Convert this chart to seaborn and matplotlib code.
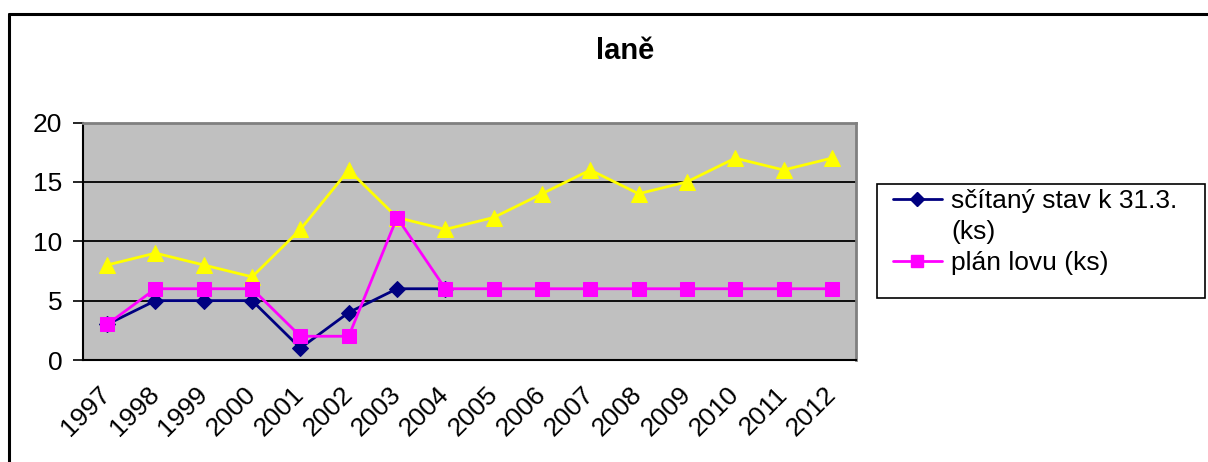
import numpy as np
import pandas as pd
import matplotlib
matplotlib.use("Agg")
import matplotlib.pyplot as plt
import seaborn as sns
from matplotlib.lines import Line2D
from matplotlib.patches import Rectangle

years = ["1997", "1998", "1999", "2000", "2001", "2002", "2003", "2004",
         "2005", "2006", "2007", "2008", "2009", "2010", "2011", "2012"]
stav = [3, 5, 5, 5, 1, 4, 6, 6, np.nan, np.nan, np.nan, np.nan, np.nan, np.nan, np.nan, np.nan]
plan = [3, 6, 6, 6, 2, 2, 12, 6, 6, 6, 6, 6, 6, 6, 6, 6]
treti = [8, 9, 8, 7, 11, 16, 12, 11, 12, 14, 16, 14, 15, 17, 16, 17]
labels = ["sčítaný stav k 31.3.\n(ks)", "plán lovu (ks)"]
title = "laně"

sns.set_style("white")
plt.rcParams['font.family'] = ['Liberation Sans', 'DejaVu Sans']
plt.rcParams['text.color'] = 'black'
plt.rcParams['xtick.color'] = 'black'
plt.rcParams['ytick.color'] = 'black'
plt.rcParams['xtick.labelcolor'] = 'black'
plt.rcParams['ytick.labelcolor'] = 'black'

W, H = 1208, 462
fig = plt.figure(figsize=(W / 100, H / 100), dpi=100)
ax = fig.add_axes([83 / W, 1 - 360 / H, (856 - 83) / W, (360 - 122.5) / H])

x = np.arange(len(years))
df = pd.DataFrame({"x": x, "stav": stav, "plan": plan, "treti": treti})

sns.lineplot(data=df, x="x", y="treti", ax=ax, color="#FFFF00", lw=2.0,
             marker="^", markersize=11, markeredgecolor="#FFFF00", zorder=3)
sns.lineplot(data=df, x="x", y="stav", ax=ax, color="#000080", lw=2.0,
             marker="D", markersize=8, markeredgecolor="#000080", zorder=4)
sns.lineplot(data=df, x="x", y="plan", ax=ax, color="#FF00FF", lw=2.0,
             marker="s", markersize=10, markeredgecolor="#FF00FF", zorder=5)

ax.set_facecolor("#C0C0C0")
ax.set_xlim(-0.5, len(years) - 0.5)
ax.set_ylim(0, 20)
ax.set_yticks([0, 5, 10, 15, 20])
ax.set_yticklabels(["0", "5", "10", "15", "20"], fontsize=19, color="black")
ax.yaxis.grid(True, color="black", lw=1.3)
ax.set_axisbelow(True)
ax.set_xticks(x)
ax.set_xticklabels(years, fontsize=19, rotation=45, ha="right", va="center",
                   rotation_mode="anchor", color="black")
ax.set_xticks(np.arange(-0.5, len(years)), minor=True)
ax.tick_params(axis="x", which="major", length=0, pad=22)
ax.tick_params(axis="x", which="minor", length=7, width=1.2, color="black", direction="out")
ax.tick_params(axis="y", length=7, width=1.2, color="black", direction="out", left=True, pad=8)
ax.set_xlabel("")
ax.set_ylabel("")
for s in ["left", "bottom"]:
    ax.spines[s].set_color("black")
    ax.spines[s].set_linewidth(1.5)
for s in ["top", "right"]:
    ax.spines[s].set_color("#808080")
    ax.spines[s].set_linewidth(2.0)

fig.text(625 / W, 1 - 51 / H, title, fontsize=21, fontweight="bold",
         ha="center", va="center", color="black")

# outer chart border
fig.add_artist(Line2D([8.5 / W, 8.5 / W], [0, 1 - 13.5 / H], transform=fig.transFigure,
                      color="black", lw=2.2))
fig.add_artist(Line2D([8.5 / W, 1], [1 - 13.5 / H, 1 - 13.5 / H], transform=fig.transFigure,
                      color="black", lw=2.2))

# legend box
fig.add_artist(Rectangle((877 / W, 1 - 298 / H), (1205 - 877) / W, (298 - 184) / H,
                         transform=fig.transFigure, fill=False, edgecolor="black", lw=1.2))
h1 = Line2D([], [], color="#000080", lw=2.0, marker="D", markersize=7)
h0 = Line2D([], [], color="none")
h2 = Line2D([], [], color="#FF00FF", lw=2.0, marker="s", markersize=9)
first, second = labels[0].split("\n")
fig.legend([h1, h0, h2], [first, second, labels[1]], loc="upper left",
           bbox_to_anchor=(893 / W, 1 - 189 / H), frameon=False, fontsize=19,
           borderpad=0, borderaxespad=0, handlelength=1.85, handletextpad=0.35,
           labelspacing=0.27, labelcolor="black")

fig.savefig("out.png", dpi=100)
